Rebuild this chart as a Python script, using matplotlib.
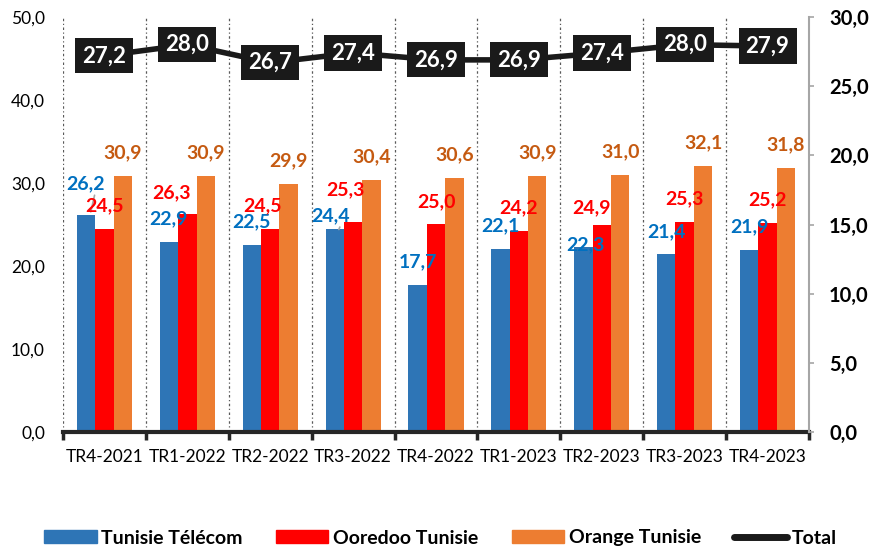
import numpy as np
import matplotlib
matplotlib.use('Agg')
import matplotlib.pyplot as plt
from matplotlib.ticker import FuncFormatter, MultipleLocator
from matplotlib.lines import Line2D
from matplotlib.patches import Patch

plt.rcParams['font.family'] = ['Lato', 'DejaVu Sans']

quarters = ['TR4-2021', 'TR1-2022', 'TR2-2022', 'TR3-2022', 'TR4-2022',
            'TR1-2023', 'TR2-2023', 'TR3-2023', 'TR4-2023']
tunisie_telecom = [26.2, 22.9, 22.5, 24.4, 17.7, 22.1, 22.3, 21.4, 21.9]
ooredoo = [24.5, 26.3, 24.5, 25.3, 25.0, 24.2, 24.9, 25.3, 25.2]
orange = [30.9, 30.9, 29.9, 30.4, 30.6, 30.9, 31.0, 32.1, 31.8]
total = [27.2, 28.0, 26.7, 27.4, 26.9, 26.9, 27.4, 28.0, 27.9]

series_names = ['Tunisie Télécom', 'Ooredoo Tunisie', 'Orange Tunisie']
bar_colors = ['#2E75B6', '#FF0000', '#ED7D31']
label_colors = ['#0070C0', '#FF0000', '#C55A11']

# label nudges in pixels (dx, dy above bar top), Excel-style manual placement
default_off = (0, 23)
nudges = {
    (0, 0): (-1, 31), (0, 3): (-4, 14), (0, 6): (2, 2),
    (1, 1): (-16, 21), (1, 2): (-8, 23), (1, 3): (-8, 32), (1, 6): (-10, 18),
}
leaders = {(0, 0), (0, 3)}


def fmt(v, pos=None):
    return f'{v:.1f}'.replace('.', ',')


fig = plt.figure(figsize=(8.72, 5.47), dpi=100)
ax = fig.add_axes([63 / 872, 1 - 432 / 547, (809 - 63) / 872, (432 - 17) / 547])
ax2 = ax.twinx()

x = np.arange(len(quarters))
w = 0.222
for s, vals in enumerate([tunisie_telecom, ooredoo, orange]):
    xs = x + (s - 1) * w
    ax.bar(xs, vals, width=w, color=bar_colors[s], zorder=2)
    for i, v in enumerate(vals):
        dx, dy = nudges.get((s, i), default_off)
        ax.annotate(fmt(v), (xs[i], v), xytext=(dx, dy), textcoords='offset pixels',
                    ha='center', va='center', fontsize=14, fontweight='bold',
                    color=label_colors[s], zorder=5)
        if (s, i) in leaders:
            ax.annotate('', (xs[i] + 0.05, v), xytext=(dx + 6, dy - 9),
                        textcoords='offset pixels',
                        arrowprops=dict(arrowstyle='-', color='#A6A6A6', lw=1.2))

ax.set_xlim(-0.5, len(quarters) - 0.5)
ax.set_ylim(0, 50)
ax.yaxis.set_major_locator(MultipleLocator(10))
ax.yaxis.set_major_formatter(FuncFormatter(fmt))
ax.set_xticks(x)
ax.set_xticklabels(quarters, fontsize=12.5)
ax.set_xticks(np.arange(len(quarters) + 1) - 0.5, minor=True)
ax.tick_params(axis='x', which='major', length=0, pad=12)
ax.tick_params(axis='x', which='minor', length=6, width=2.5, color='#262626')
ax.tick_params(axis='y', length=0, labelsize=12.5, pad=13)
for b in np.arange(len(quarters)) - 0.5:
    ax.axvline(b, color='#595959', lw=0.9, ls=(0, (2, 2, 1, 2)), zorder=1)
for sp in ['top', 'left', 'right']:
    ax.spines[sp].set_visible(False)
ax.spines['bottom'].set_linewidth(3)
ax.spines['bottom'].set_color('#262626')
ax.spines['bottom'].set_zorder(6)

ax2.plot(x, total, color='#1A1A1A', lw=4, zorder=3, solid_capstyle='round')
for i, v in enumerate(total):
    ax2.text(x[i], v, fmt(v), ha='center', va='center', fontsize=16,
             fontweight='bold', color='white', zorder=4,
             bbox=dict(boxstyle='square,pad=0.32', fc='#1A1A1A', ec='none'))
ax2.set_ylim(0, 30)
ax2.yaxis.set_major_locator(MultipleLocator(5))
ax2.yaxis.set_major_formatter(FuncFormatter(fmt))
ax2.tick_params(axis='y', length=3.5, width=1.2, color='#A6A6A6', labelsize=14.5, pad=11)
for lab in ax2.get_yticklabels():
    lab.set_fontweight('bold')
for sp in ['top', 'left', 'bottom']:
    ax2.spines[sp].set_visible(False)
ax2.spines['right'].set_color('#A6A6A6')
ax2.spines['right'].set_linewidth(1.5)

handles = [Patch(color=c) for c in bar_colors]
handles.append(Line2D([], [], color='#1A1A1A', lw=5, solid_capstyle='round'))
fig.legend(handles, series_names + ['Total'], loc='center left',
           bbox_to_anchor=(44 / 872, 1 - 538 / 547), ncol=4, frameon=False,
           borderpad=0, borderaxespad=0,
           prop=dict(size=14, weight='bold'), handlelength=2.7, handleheight=0.62,
           handletextpad=0.25, columnspacing=1.7)

fig.savefig('out.png', dpi=100)
